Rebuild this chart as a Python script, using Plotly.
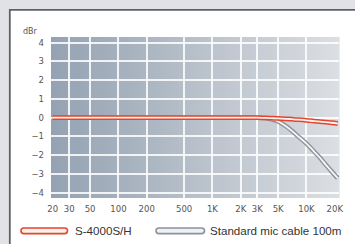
import plotly.graph_objects as go

# ---- data ----
freq_hz = [20, 100, 1000, 2000, 3000, 3500, 4000, 4500, 5000, 6000, 7000, 8000, 10000, 12000, 14000, 16000, 18500, 21500]
s4000_dbr = [0, 0, 0, 0, 0, -0.01, -0.02, -0.03, -0.04, -0.06, -0.08, -0.1, -0.14, -0.18, -0.21, -0.24, -0.27, -0.31]
cable_dbr = [0, 0, 0, 0, -0.005, -0.02, -0.06, -0.12, -0.2, -0.44, -0.7, -0.96, -1.38, -1.79, -2.15, -2.5, -2.86, -3.22]

x_tick_vals = [20, 30, 50, 100, 200, 500, 1000, 2000, 3000, 5000, 10000, 20000]
x_tick_text = ["20", "30", "50", "100", "200", "500", "1K", "2K", "3K", "5K", "10K", "20K"]
x_grid_vals = [30, 50, 100, 200, 500, 1000, 2000, 3000, 5000, 10000]
y_tick_vals = [4, 3, 2, 1, 0, -1, -2, -3, -4]
y_tick_text = ["4", "3", "2", "1", "0", "\u22121", "\u22122", "\u22123", "\u22124"]

series_names = ["S-4000S/H", "Standard mic cable 100m"]

# ---- geometry ----
W, H = 355, 244
L, R, T, B = 51, 339, 37, 198
PW, PH = R - L, B - T


def px(x):
    return (x - L) / PW


def py(y):
    return (B - y) / PH


fig = go.Figure()

# cable (grey tube) first, red on top
fig.add_trace(go.Scatter(x=freq_hz, y=cable_dbr, mode="lines",
                         line=dict(color="#8d929b", width=4.6, shape="spline", smoothing=1.3),
                         hoverinfo="skip", showlegend=False))
fig.add_trace(go.Scatter(x=freq_hz, y=cable_dbr, mode="lines",
                         line=dict(color="#f6f7f9", width=1.8, shape="spline", smoothing=1.3),
                         name=series_names[1], showlegend=False))
fig.add_trace(go.Scatter(x=freq_hz, y=s4000_dbr, mode="lines",
                         line=dict(color="#e2462f", width=4.8, shape="spline", smoothing=1.3),
                         hoverinfo="skip", showlegend=False))
fig.add_trace(go.Scatter(x=freq_hz, y=s4000_dbr, mode="lines",
                         line=dict(color="#fff1ea", width=1.8, shape="spline", smoothing=1.3),
                         name=series_names[0], showlegend=False))

shapes = []
# white panel
shapes.append(dict(type="rect", xref="paper", yref="paper", x0=px(10), x1=px(W + 5), y0=py(H + 5), y1=py(9),
                   fillcolor="white", line=dict(width=0), layer="below"))
shapes.append(dict(type="line", xref="paper", yref="paper", x0=px(9), x1=px(W + 5), y0=py(9.8), y1=py(9.8),
                   line=dict(color="#5d6168", width=1.8), layer="below"))
shapes.append(dict(type="line", xref="paper", yref="paper", x0=px(9.8), x1=px(9.8), y0=py(H + 5), y1=py(9),
                   line=dict(color="#5d6168", width=1.8), layer="below"))

# gradient plot background
c0 = (148, 162, 178)
c1 = (219, 222, 226)
n = 72
for i in range(n):
    t = (i + 0.5) / n
    col = tuple(round(c0[k] + (c1[k] - c0[k]) * t) for k in range(3))
    shapes.append(dict(type="rect", xref="paper", yref="paper", x0=i / n, x1=(i + 1) / n + 0.002, y0=0, y1=1,
                       fillcolor="rgb(%d,%d,%d)" % col, line=dict(width=0), layer="below"))


def pill(x0, x1, yc, h):
    r = h / 2
    top, bot = yc - r, yc + r
    pts = [
        ("M", [(x0 + r, top)]),
        ("L", [(x1 - r, top)]),
        ("Q", [(x1, top), (x1, yc)]),
        ("Q", [(x1, bot), (x1 - r, bot)]),
        ("L", [(x0 + r, bot)]),
        ("Q", [(x0, bot), (x0, yc)]),
        ("Q", [(x0, top), (x0 + r, top)]),
    ]
    s = ""
    for cmd, ps in pts:
        s += cmd + " ".join("%.5f,%.5f" % (px(a), py(b)) for a, b in ps) + " "
    return s + "Z"


leg_y = 230.8
shapes.append(dict(type="path", xref="paper", yref="paper", path=pill(21, 67.5, leg_y, 5.6),
                   fillcolor="#fff0ea", line=dict(color="#e2462f", width=1.6)))
shapes.append(dict(type="path", xref="paper", yref="paper", path=pill(156, 204.5, leg_y, 5.6),
                   fillcolor="#eef0f3", line=dict(color="#8d929b", width=1.6)))

annotations = [
    dict(text="dBr", xref="paper", yref="paper", x=px(30.5), y=py(31.5), showarrow=False,
         xanchor="center", yanchor="middle", font=dict(family="DejaVu Sans", size=8, color="#555")),
    dict(text=series_names[0], xref="paper", yref="paper", x=px(72.5), y=py(leg_y), showarrow=False,
         xanchor="left", yanchor="middle", font=dict(family="Liberation Sans", size=11.6, color="#333")),
    dict(text=series_names[1], xref="paper", yref="paper", x=px(208), y=py(leg_y), showarrow=False,
         xanchor="left", yanchor="middle", font=dict(family="Liberation Sans", size=11.6, color="#333")),
]

fig.update_layout(
    width=W, height=H,
    margin=dict(l=L, r=W - R, t=T, b=H - B, pad=0),
    paper_bgcolor="#e0e2e5",
    plot_bgcolor="rgba(0,0,0,0)",
    shapes=shapes,
    annotations=annotations,
    showlegend=False,
    xaxis=dict(type="log", range=[1.283, 4.346], tickmode="array", tickvals=x_tick_vals, ticktext=x_tick_text,
               showgrid=False, zeroline=False, showline=False, ticks="",
               ticklabelstandoff=4,
               tickfont=dict(family="DejaVu Sans", size=8.5, color="#555"),
               minor=dict(tickmode="array", tickvals=x_grid_vals, showgrid=True,
                          gridcolor="rgba(255,255,255,0.85)", gridwidth=1.5, ticks="")),
    yaxis=dict(range=[-4.28, 4.3], tickmode="array", tickvals=y_tick_vals, ticktext=y_tick_text,
               showgrid=True, gridcolor="rgba(255,255,255,0.85)", gridwidth=1.5,
               zeroline=False, showline=False, ticks="", ticklabelstandoff=6,
               tickfont=dict(family="DejaVu Sans", size=8.5, color="#555")),
)

fig.write_html("out.html", config={"displayModeBar": False},
               post_script="document.body.style.margin='0';document.body.style.background='#e0e2e5';")
